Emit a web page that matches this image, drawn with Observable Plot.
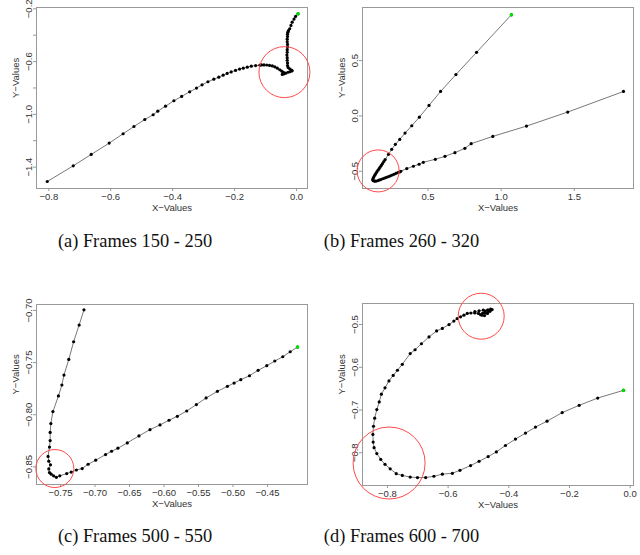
<!DOCTYPE html>
<html>
<head>
<meta charset="utf-8">
<script src="https://cdn.jsdelivr.net/npm/d3@7"></script>
<script src="https://cdn.jsdelivr.net/npm/@observablehq/plot@0.6"></script>
<style>
  html, body { margin: 0; padding: 0; background: #fff; }
  #wrap { position: relative; width: 640px; height: 555px; overflow: hidden; }
  .panel { position: absolute; }
  .cap { position: absolute; font-family: "Liberation Serif", "Times New Roman", serif; font-size: 18.4px; color: #111; white-space: nowrap; transform: translate(-50%, -50%); }
</style>
</head>
<body>
<div id="wrap"></div>
<script>
// ---------- Data ----------
// (a) Frames 150 - 250
const aX = [0.005,-0.003,-0.008,-0.014,-0.018,-0.022,-0.026,-0.028,-0.029,-0.029,-0.030,-0.030,-0.029,-0.029,-0.030,-0.030,-0.031,-0.030,-0.030,-0.029,-0.029,-0.027,-0.022,-0.016,-0.014,-0.020,-0.027,-0.034,-0.040,-0.046,-0.044,-0.042,-0.048,-0.054,-0.062,-0.070,-0.078,-0.087,-0.096,-0.105,-0.113,-0.118,-0.132,-0.146,-0.159,-0.172,-0.184,-0.197,-0.211,-0.224,-0.237,-0.251,-0.267,-0.286,-0.305,-0.323,-0.345,-0.371,-0.396,-0.423,-0.448,-0.463,-0.490,-0.525,-0.560,-0.605,-0.663,-0.721,-0.805];
const aY = [-0.238,-0.258,-0.278,-0.301,-0.326,-0.351,-0.366,-0.377,-0.392,-0.410,-0.430,-0.450,-0.470,-0.490,-0.510,-0.530,-0.550,-0.570,-0.590,-0.610,-0.630,-0.645,-0.655,-0.665,-0.670,-0.676,-0.681,-0.687,-0.693,-0.698,-0.690,-0.682,-0.672,-0.662,-0.650,-0.640,-0.633,-0.629,-0.626,-0.625,-0.625,-0.627,-0.630,-0.635,-0.642,-0.650,-0.657,-0.667,-0.678,-0.690,-0.703,-0.718,-0.733,-0.753,-0.776,-0.801,-0.829,-0.864,-0.897,-0.938,-0.976,-1.003,-1.039,-1.092,-1.147,-1.218,-1.304,-1.390,-1.509];
const aCircleX = [-0.039], aCircleY = [-0.680], aCircleR = [25.5];

// (b) Frames 260 - 320
const bX = [1.070,0.832,0.691,0.586,0.507,0.441,0.389,0.343,0.307,0.277,0.252,0.230,0.207,0.198,0.189,0.181,0.173,0.166,0.158,0.150,0.143,0.136,0.130,0.125,0.122,0.126,0.134,0.143,0.155,0.166,0.177,0.190,0.203,0.216,0.230,0.243,0.256,0.268,0.281,0.294,0.307,0.314,0.355,0.400,0.439,0.468,0.550,0.616,0.684,0.752,0.795,0.943,1.173,1.455,1.836];
const bY = [0.914,0.575,0.374,0.221,0.095,-0.011,-0.089,-0.155,-0.212,-0.257,-0.302,-0.347,-0.395,-0.412,-0.431,-0.447,-0.462,-0.476,-0.491,-0.506,-0.521,-0.536,-0.550,-0.565,-0.578,-0.586,-0.589,-0.590,-0.586,-0.580,-0.575,-0.568,-0.562,-0.555,-0.548,-0.541,-0.534,-0.527,-0.519,-0.512,-0.506,-0.500,-0.476,-0.455,-0.437,-0.419,-0.392,-0.365,-0.332,-0.293,-0.251,-0.185,-0.092,0.035,0.221];
const bCircleX = [0.159], bCircleY = [-0.497], bCircleR = [21];

// (c) Frames 500 - 550
const cX = [-0.4065,-0.4171,-0.4278,-0.4394,-0.4510,-0.4636,-0.4761,-0.4887,-0.4984,-0.5081,-0.5226,-0.5390,-0.5531,-0.5671,-0.5807,-0.5927,-0.6058,-0.6203,-0.6363,-0.6532,-0.6668,-0.6760,-0.6847,-0.6990,-0.7100,-0.7186,-0.7270,-0.7345,-0.7410,-0.7510,-0.7560,-0.7600,-0.7635,-0.7660,-0.7670,-0.7645,-0.7670,-0.7680,-0.7660,-0.7650,-0.7650,-0.7640,-0.7610,-0.7530,-0.7480,-0.7450,-0.7380,-0.7310,-0.7230,-0.7160];
const cY = [-0.7351,-0.7396,-0.7444,-0.7485,-0.7530,-0.7574,-0.7626,-0.7664,-0.7696,-0.7728,-0.7776,-0.7839,-0.7903,-0.7964,-0.8015,-0.8053,-0.8098,-0.8143,-0.8203,-0.8270,-0.8321,-0.8350,-0.8382,-0.8436,-0.8475,-0.8516,-0.8530,-0.8550,-0.8564,-0.8586,-0.8600,-0.8586,-0.8570,-0.8555,-0.8520,-0.8480,-0.8445,-0.8400,-0.8310,-0.8248,-0.8170,-0.8085,-0.7970,-0.7820,-0.7715,-0.7620,-0.7470,-0.7300,-0.7140,-0.6994];
const cCircleX = [-0.7582], cCircleY = [-0.8516], cCircleR = [19];

// (d) Frames 600 - 700
const dX = [-0.022,-0.107,-0.168,-0.224,-0.274,-0.312,-0.345,-0.378,-0.411,-0.441,-0.468,-0.498,-0.526,-0.561,-0.586,-0.619,-0.647,-0.674,-0.701,-0.725,-0.751,-0.771,-0.791,-0.808,-0.822,-0.835,-0.844,-0.847,-0.848,-0.846,-0.842,-0.835,-0.827,-0.820,-0.808,-0.795,-0.781,-0.767,-0.751,-0.725,-0.709,-0.688,-0.663,-0.638,-0.619,-0.597,-0.581,-0.570,-0.559,-0.548,-0.537,-0.525,-0.512,-0.500,-0.493,-0.486,-0.478,-0.468,-0.460,-0.455,-0.466,-0.478,-0.488,-0.480,-0.470,-0.462,-0.470,-0.484,-0.498,-0.512];
const dY = [-0.654,-0.672,-0.689,-0.706,-0.726,-0.740,-0.754,-0.768,-0.783,-0.798,-0.809,-0.820,-0.830,-0.841,-0.848,-0.850,-0.855,-0.858,-0.858,-0.857,-0.853,-0.849,-0.8375,-0.827,-0.8156,-0.802,-0.788,-0.775,-0.757,-0.738,-0.719,-0.699,-0.681,-0.663,-0.648,-0.632,-0.619,-0.607,-0.593,-0.568,-0.559,-0.545,-0.529,-0.515,-0.509,-0.500,-0.492,-0.486,-0.482,-0.478,-0.474,-0.473,-0.473,-0.474,-0.477,-0.473,-0.469,-0.466,-0.464,-0.465,-0.468,-0.472,-0.478,-0.479,-0.474,-0.469,-0.466,-0.466,-0.468,-0.470];
const dCircleX = [-0.491, -0.7945], dCircleY = [-0.4805, -0.824], dCircleR = [23, 36];

// Tick values and labels
const aXTicks = [-0.8,-0.6,-0.4,-0.2,0.0];
const aYTicks = [-1.4,-1.2,-1.0,-0.8,-0.6,-0.4,-0.2];
const aYLabeled = [-1.4,-1.0,-0.6,-0.2];
const bXTicks = [0.5,1.0,1.5];
const bYTicks = [-0.5,0.0,0.5];
const cXTicks = [-0.75,-0.70,-0.65,-0.60,-0.55,-0.50,-0.45];
const cYTicks = [-0.85,-0.80,-0.75,-0.70];
const dXTicks = [-0.8,-0.6,-0.4,-0.2,0.0];
const dYTicks = [-0.8,-0.7,-0.6,-0.5];
const captions = ["(a) Frames 150 - 250","(b) Frames 260 - 320","(c) Frames 500 - 550","(d) Frames 600 - 700"];

// ---------- Drawing ----------
const wrap = document.getElementById("wrap");
const toPts = (X, Y) => X.map((x, i) => ({x, y: Y[i]}));

function panel(o) {
  const pts = toPts(o.X, o.Y);
  const circ = o.cX.map((x, i) => ({x, y: o.cY[i], r: o.cR[i]}));
  const labeled = o.yLabeled || o.yTicks;
  const svg = Plot.plot({
    width: 320,
    height: o.height,
    marginLeft: o.ml, marginRight: 320 - o.boxRight, marginTop: o.mt, marginBottom: o.mb,
    style: {fontFamily: "'Liberation Sans', Arial, sans-serif", fontSize: "9.5px", background: "white", overflow: "visible"},
    x: {domain: o.xDomain},
    y: {domain: o.yDomain},
    r: {type: "identity"},
    marks: [
      Plot.frame({stroke: "#999", strokeWidth: 1}),
      Plot.axisX({ticks: o.xTicks, tickSize: 3, tickPadding: 1.5, tickFormat: d3.format(o.xFmt), stroke: "#999", fill: "#333", label: null}),
      Plot.axisY({ticks: o.yTicks, tickSize: 3, tickPadding: 1.5, tickRotate: -90,
        tickFormat: d => labeled.some(v => Math.abs(v - d) < 1e-9) ? d3.format(o.yFmt)(d) : "",
        stroke: "#999", fill: "#333", label: null}),
      Plot.text(["X−Values"], {frameAnchor: "bottom", dy: 19, fill: "#333", lineAnchor: "middle"}),
      Plot.text(["Y−Values"], {frameAnchor: "left", dx: -21, rotate: -90, fill: "#333", lineAnchor: "middle"}),
      Plot.line(pts, {x: "x", y: "y", stroke: "#555", strokeWidth: 0.8}),
      Plot.dot(pts, {x: "x", y: "y", r: 1.6, fill: "black", stroke: "none"}),
      Plot.dot(pts.slice(0, 1), {x: "x", y: "y", r: 1.8, fill: "#00e000", stroke: "none"}),
      Plot.dot(circ, {x: "x", y: "y", r: "r", fill: "none", stroke: "#ff4a4a", strokeWidth: 1})
    ]
  });
  svg.classList.add("panel");
  svg.style.left = o.left + "px";
  svg.style.top = o.top + "px";
  wrap.appendChild(svg);
}

panel({X: aX, Y: aY, cX: aCircleX, cY: aCircleY, cR: aCircleR,
  xDomain: [-0.8397, 0.0355], yDomain: [-1.562, -0.19],
  xTicks: aXTicks, yTicks: aYTicks, yLabeled: aYLabeled, xFmt: ".1f", yFmt: ".1f",
  left: 0, top: 0, height: 215, ml: 36, boxRight: 307, mt: 7, mb: 27});

panel({X: bX, Y: bY, cX: bCircleX, cY: bCircleY, cR: bCircleR,
  xDomain: [0.0523, 1.9045], yDomain: [-0.656, 0.98],
  xTicks: bXTicks, yTicks: bYTicks, xFmt: ".1f", yFmt: ".1f",
  left: 320, top: 0, height: 215, ml: 42, boxRight: 313, mt: 7, mb: 27});

panel({X: cX, Y: cY, cX: cCircleX, cY: cCircleY, cR: cCircleR,
  xDomain: [-0.7848, -0.392], yDomain: [-0.8669, -0.6943],
  xTicks: cXTicks, yTicks: cYTicks, xFmt: ".2f", yFmt: ".2f",
  left: 0, top: 290, height: 220, ml: 36, boxRight: 307, mt: 14, mb: 26});

panel({X: dX, Y: dY, cX: dCircleX, cY: dCircleY, cR: dCircleR,
  xDomain: [-0.8822, 0.011], yDomain: [-0.8766, -0.4508],
  xTicks: dXTicks, yTicks: dYTicks, xFmt: ".1f", yFmt: ".1f",
  left: 320, top: 290, height: 222, ml: 42, boxRight: 313, mt: 13, mb: 27});

const capPos = [[135, 241], [401.5, 241], [135, 536], [401.5, 536]];
captions.forEach((t, i) => {
  const d = document.createElement("div");
  d.className = "cap";
  d.textContent = t;
  d.style.left = capPos[i][0] + "px";
  d.style.top = capPos[i][1] + "px";
  wrap.appendChild(d);
});
</script>
</body>
</html>
